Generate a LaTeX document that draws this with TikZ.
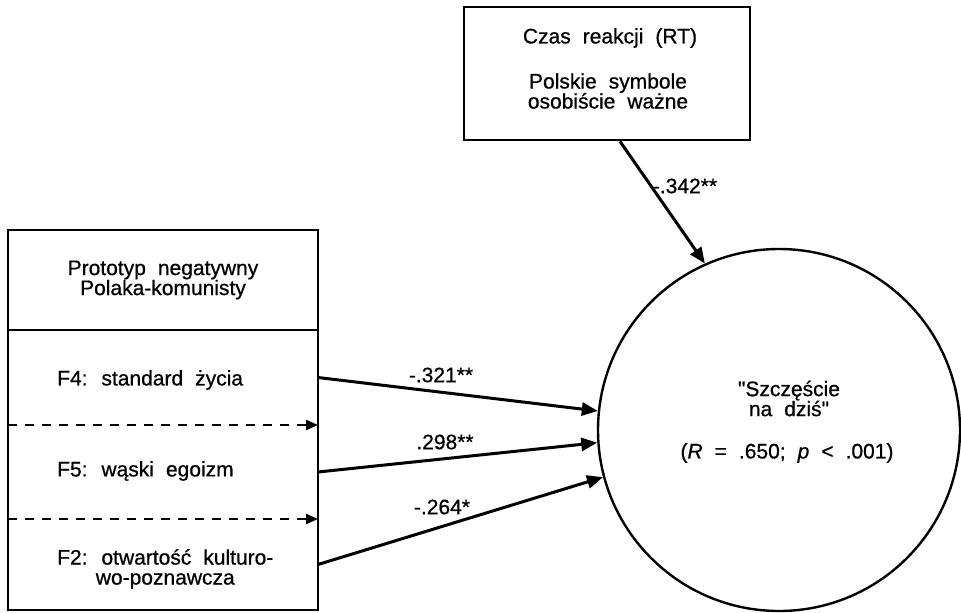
\documentclass[tikz,border=0pt]{standalone}
\usepackage{fontspec}
\setmainfont{Liberation Sans}[FakeBold=0.7]
\usetikzlibrary{arrows.meta,calc}
\newcommand\widesp{\spaceskip=12pt plus 2pt minus 2pt\relax\lineskiplimit=-20pt\relax}
\tikzset{
  txt/.style={font=\fontsize{21}{20}\selectfont\widesp, inner sep=0pt, align=center},
  lbl/.style={font=\fontsize{21}{20}\selectfont, inner sep=0pt},
  border/.style={line width=2.8pt},
  cell/.style={minimum width=310pt, inner sep=0pt, outer sep=0pt},
  arr/.style={line width=3pt, -{Triangle[length=16pt,width=13pt]}},
  dasharr/.style={line width=2.2pt, dash pattern=on 9pt off 8pt, -{Triangle[length=12pt,width=10pt]}},
}
\begin{document}
\begin{tikzpicture}[x=1pt,y=-1pt]
\useasboundingbox (0,0) rectangle (961,613);

% top box
\node[draw, border, minimum width=286pt, minimum height=133pt, inner sep=0pt] (rt) at (607,73.5) {};
\node[txt] (rt1) at (610,38) {Czas reakcji (RT)};
\node[txt] (rt2) at (608,91) {Polskie symbole\\osobiście ważne};

% left box cells
\node[cell, minimum height=100pt] (hdr) at (163,280) {};
\node[cell, minimum height=95pt] (f4c) at (163,377.5) {};
\node[cell, minimum height=94pt] (f5c) at (163,472) {};
\node[cell, minimum height=91pt] (f2c) at (163,564.5) {};
\draw[border] (hdr.north west) rectangle (f2c.south east);
\draw[border] (hdr.south west) -- (hdr.south east);
\draw[dasharr] (f4c.south west) -- (f4c.south east);
\draw[dasharr] (f5c.south west) -- (f5c.south east);

\node[txt] (hdrt) at (163,280) {Prototyp negatywny\\Polaka-komunisty};
\node[txt, anchor=west] (f4t) at (57,380) {F4: standard życia};
\node[txt, anchor=west] (f5t) at (57,471) {F5: wąski egoizm};
\node[txt, anchor=west] (f2t) at (57,569) {F2: otwartość kulturo-\\wo-poznawcza};

% circle
\node[draw, circle, line width=2.4pt, minimum size=362pt, inner sep=0pt] (hap) at (779,430) {};
\node[txt] (hap1) at (789,398.5) {\textquotedbl Szczęście\\na dziś\textquotedbl};
\node[txt] (hap2) at (787,453) {(\textit{R} = .650; \textit{p} < .001)};

% arrows
\coordinate (rtout) at ($(rt.south)+(13,0)$);
\draw[arr] (rtout) -- (hap.114.3);
\draw[arr] (f4c.east) -- (hap.174.4);
\draw[arr] (f5c.east) -- (hap.184.1);
\draw[arr] (f2c.east) -- (hap.195.6);

% labels
\node[lbl] (l342) at (685,186) {-.342**};
\node[lbl] (l321) at (441,375) {-.321**};
\node[lbl] (l298) at (445,442) {.298**};
\node[lbl] (l264) at (442,507) {-.264*};
\end{tikzpicture}
\end{document}
